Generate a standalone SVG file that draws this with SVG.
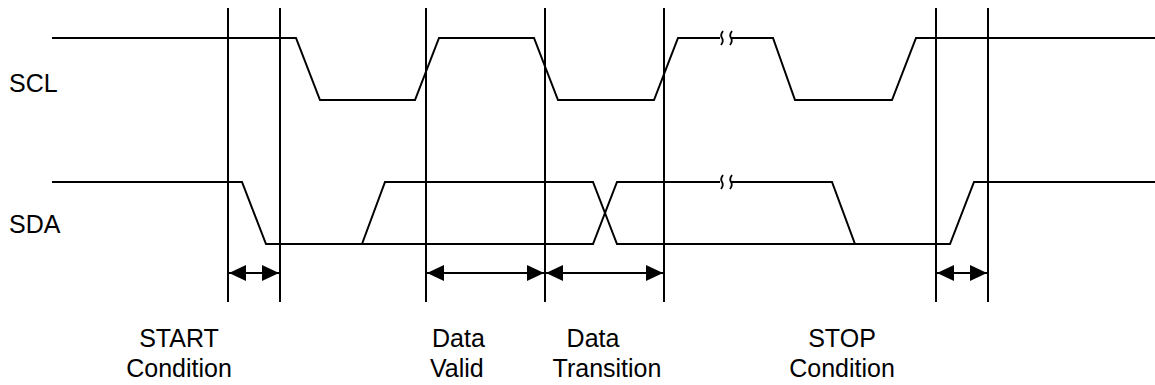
<svg xmlns="http://www.w3.org/2000/svg" width="1155" height="385" viewBox="0 0 1155 385">
<style>
.sig{fill:none;stroke:#000;stroke-width:2;stroke-linejoin:miter}
.vl{stroke:#000;stroke-width:2}
.brk{fill:none;stroke:#000;stroke-width:1.8}
.dim{stroke:#000;stroke-width:2;marker-start:url(#ah);marker-end:url(#ah)}
text{font-family:"Liberation Sans",Arial,sans-serif;font-size:25px;fill:#000}
</style>
<defs>
<marker id="ah" viewBox="0 0 17 16" refX="17" refY="8" markerWidth="17" markerHeight="16" markerUnits="userSpaceOnUse" orient="auto-start-reverse">
<path d="M0,0 L17,8 L0,16 z" fill="#000"/>
</marker>
</defs>
<rect width="1155" height="385" fill="#fff"/>
<g id="labels">
<text x="9" y="92">SCL</text>
<text x="9" y="233">SDA</text>
</g>
<g id="scl">
<path class="sig" d="M52 38 H296 L320 100 H415 L439 38 H534 L558 100 H654 L678 38 H720 M731 38 H773 L795 100 H892 L916 38 H1155"/>
<path class="brk" d="M723 31 q-3 4 -1 7 q2 3 -1 7 M732 31 q-3 4 -1 7 q2 3 -1 7"/>
</g>
<g id="sda">
<path class="sig" d="M52 182 H242 L266 244 H593 L617 182 H720 M731 182 H832 L855 244 H950 L974 182 H1155"/>
<path class="sig" d="M362 244 L385 182 H593 L617 244 H950"/>
<path class="brk" d="M723 175 q-3 4 -1 7 q2 3 -1 7 M732 175 q-3 4 -1 7 q2 3 -1 7"/>
</g>
<g id="markers">
<line class="vl" x1="228" y1="8" x2="228" y2="302"/>
<line class="vl" x1="280" y1="8" x2="280" y2="302"/>
<line class="vl" x1="426" y1="8" x2="426" y2="302"/>
<line class="vl" x1="545" y1="8" x2="545" y2="302"/>
<line class="vl" x1="664" y1="8" x2="664" y2="302"/>
<line class="vl" x1="936" y1="8" x2="936" y2="302"/>
<line class="vl" x1="988" y1="8" x2="988" y2="302"/>
</g>
<g id="connectors">
<line class="dim" x1="229" y1="273" x2="279" y2="273"/>
<line class="dim" x1="427" y1="273" x2="544" y2="273"/>
<line class="dim" x1="546" y1="273" x2="663" y2="273"/>
<line class="dim" x1="937" y1="273" x2="987" y2="273"/>
</g>
<g id="start-label">
<text x="179" y="347" text-anchor="middle">START</text>
<text x="179" y="377" text-anchor="middle">Condition</text>
</g>
<g id="valid-label">
<text x="432" y="347">Data</text>
<text x="430" y="377">Valid</text>
</g>
<g id="transition-label">
<text x="593" y="347" text-anchor="middle">Data</text>
<text x="607" y="377" text-anchor="middle">Transition</text>
</g>
<g id="stop-label">
<text x="842" y="347" text-anchor="middle">STOP</text>
<text x="842" y="377" text-anchor="middle">Condition</text>
</g>
</svg>
